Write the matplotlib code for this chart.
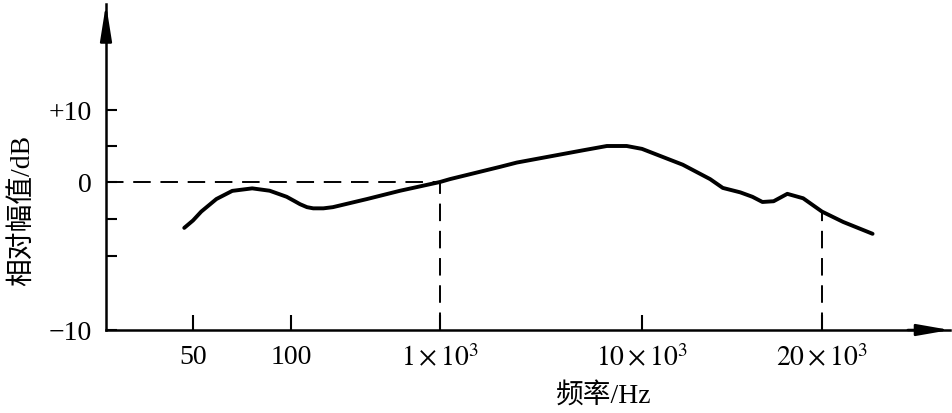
# Relative amplitude vs frequency (schematic response curve)

import numpy as np
import matplotlib.pyplot as plt

plt.rcParams['mathtext.fontset'] = 'stix'

# curve
freq_hz = [47, 50, 53, 59, 66, 76, 86, 97, 106, 115, 128, 141, 165, 191, 250, 324,
           540, 1000, 1120, 1980, 2400, 5100, 6700, 8400, 10000, 11700, 13000,
           13650, 14600, 15300, 15900, 16600, 17500, 18600, 20000, 21700, 24300]
level_db = [-3.1, -2.6, -2.0, -1.15, -0.6, -0.43, -0.59, -1.0, -1.3, -1.5, -1.7, -1.78, -1.78, -1.7, -1.42, -1.15,
            -0.59, 0.0, 0.4, 2.1, 2.7, 4.4, 5.0, 5.0, 4.6, 2.4, 0.4,
            -0.4, -0.7, -1.0, -1.35, -1.3, -0.8, -1.1, -2.0, -2.7, -3.5]

x_ticks_hz = [50, 100, 1000, 10000, 20000]
x_tick_labels = ['50', '100', r'$1\times10^3$', r'$10\times10^3$', r'$20\times10^3$']
y_ticks_db = [10, 5, 0, -2.5, -5, -10]
y_tick_labels = ['+10', '', '0', '', '', '−10']
ref_hz = 1000
cutoff_hz = 20000

# the original axis is not a true log / linear axis, so map it piecewise
X_LOG = [np.log10(50), 2, 3, 4, np.log10(20000)]
X_POS = [193, 291, 440, 642, 822]
Y_DB = [-10, 0, 10]
Y_POS = [83, 231, 303]


def extrap(v, xs, ys):
    v = np.asarray(v, dtype=float)
    out = np.interp(v, xs, ys)
    lo = (ys[1] - ys[0]) / (xs[1] - xs[0])
    hi = (ys[-1] - ys[-2]) / (xs[-1] - xs[-2])
    out = np.where(v < xs[0], ys[0] + (v - xs[0]) * lo, out)
    out = np.where(v > xs[-1], ys[-1] + (v - xs[-1]) * hi, out)
    return out


def x_fwd(f):
    return extrap(np.log10(np.clip(np.asarray(f, dtype=float), 1e-9, None)), X_LOG, X_POS)


def x_inv(p):
    return 10 ** extrap(p, X_POS, X_LOG)


def y_fwd(d):
    return extrap(d, Y_DB, Y_POS)


def y_inv(p):
    return extrap(p, Y_POS, Y_DB)


serif = 'Liberation Serif'
mixed = ['Liberation Serif', 'Noto Sans CJK SC']

fig = plt.figure(figsize=(9.52, 4.14), dpi=100)
ax = fig.add_axes([106 / 952, 83 / 414, (950 - 106) / 952, (409 - 83) / 414])
ax.set_xscale('function', functions=(x_fwd, x_inv))
ax.set_yscale('function', functions=(y_fwd, y_inv))
x0, x1 = float(x_inv(106)), float(x_inv(950))
y0, y1 = float(y_inv(83)), float(y_inv(409))
ax.set_xlim(x0, x1)
ax.set_ylim(y0, y1)

ax.plot(freq_hz, level_db, color='black', lw=2.8, solid_capstyle='round',
        solid_joinstyle='round')

dash = (0, (9, 5))
ax.plot([x0, ref_hz], [0, 0], color='black', lw=1.4, ls=dash)
ax.plot([ref_hz, ref_hz], [y0, 0], color='black', lw=1.4, ls=dash)
cut_db = np.interp(cutoff_hz, freq_hz, level_db)
ax.plot([cutoff_hz, cutoff_hz], [y0, cut_db], color='black', lw=1.4, ls=dash)

for s in ['top', 'right']:
    ax.spines[s].set_visible(False)
for s in ['left', 'bottom']:
    ax.spines[s].set_linewidth(1.8)

ax.set_xticks(x_ticks_hz)
ax.set_xticklabels(x_tick_labels, fontfamily=serif, fontsize=20)
ax.set_yticks(y_ticks_db)
ax.set_yticklabels(y_tick_labels, fontfamily=serif, fontsize=20)
ax.xaxis.set_minor_locator(plt.NullLocator())
ax.yaxis.set_minor_locator(plt.NullLocator())
ax.tick_params(axis='x', direction='in', length=11, width=1.5, pad=10)
ax.tick_params(axis='y', direction='in', length=8, width=1.5, pad=10)

# arrow heads on the axes
ax.annotate('', xy=(1, 0), xytext=(0.95, 0), xycoords='axes fraction',
            arrowprops=dict(arrowstyle='-|>,head_length=2.0,head_width=0.35',
                            color='black', lw=1.8, shrinkA=0, shrinkB=0))
ax.annotate('', xy=(0, 1), xytext=(0, 0.9), xycoords='axes fraction',
            arrowprops=dict(arrowstyle='-|>,head_length=2.2,head_width=0.35',
                            color='black', lw=1.8, shrinkA=0, shrinkB=0))

fig.text(604 / 952, 1 - 396 / 414, '频率/Hz', family=mixed, fontsize=20,
         ha='center', va='center')
fig.text(22 / 952, 1 - 210 / 414, '相对幅值/dB', family=mixed, fontsize=20,
         ha='center', va='center', rotation=90)

fig.savefig('out.png', dpi=100)
